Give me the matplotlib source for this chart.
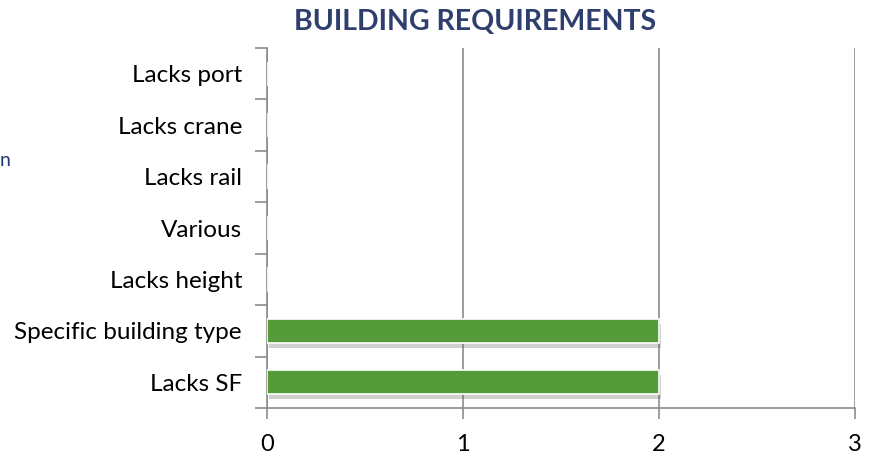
import matplotlib
matplotlib.use("Agg")
import matplotlib.pyplot as plt
import matplotlib.patheffects as pe

# データ
categories = ["Lacks SF", "Specific building type", "Lacks height", "Various",
              "Lacks rail", "Lacks crane", "Lacks port"]
values = [2, 2, 0, 0, 0, 0, 0]
x_ticks = [0, 1, 2, 3]

plt.rcParams['font.family'] = ['Lato', 'DejaVu Sans']

fig = plt.figure(figsize=(8.76, 4.55), dpi=100)
ax = fig.add_axes([267 / 876, 1 - 408 / 455, (855 - 267) / 876, (408 - 48) / 455])

bars = ax.barh(range(len(categories)), values, height=0.47, color="#559B3A",
               edgecolor="white", linewidth=1.2, zorder=3)
for b in bars:
    b.set_path_effects([pe.SimplePatchShadow(offset=(1.5, -3.5), shadow_rgbFace="#666666", alpha=0.3),
                        pe.Normal()])

ax.set_xlim(0, 3)
ax.set_ylim(-0.5, len(categories) - 0.5)
ax.set_xticks(x_ticks)
ax.set_yticks([i - 0.5 for i in range(len(categories) + 1)], minor=False)
ax.set_yticklabels([])
ax.set_yticks(range(len(categories)), minor=True)
ax.set_yticklabels(categories, minor=True)
ax.tick_params(axis='y', which='minor', length=0, pad=18, labelsize=17.5)
ax.tick_params(axis='y', which='major', length=9, width=1.2, color="#8c8c8c")
ax.tick_params(axis='x', length=8, width=1.2, color="#8c8c8c", labelsize=17, pad=11)

ax.grid(axis='x', color="#8c8c8c", linewidth=1.2, zorder=0)
for s in ["top", "right"]:
    ax.spines[s].set_visible(False)
for s in ["left", "bottom"]:
    ax.spines[s].set_color("#8c8c8c")
    ax.spines[s].set_linewidth(1.2)

fig.text(0.542, 0.952, "BUILDING REQUIREMENTS", ha="center", va="center",
         fontsize=20.5, fontweight="bold", color="#2E3F6E")
fig.text(0.0, 1 - 160 / 455, "n", ha="left", va="center", fontsize=14, color="#1F3A78")

fig.savefig("out.png", dpi=100)
